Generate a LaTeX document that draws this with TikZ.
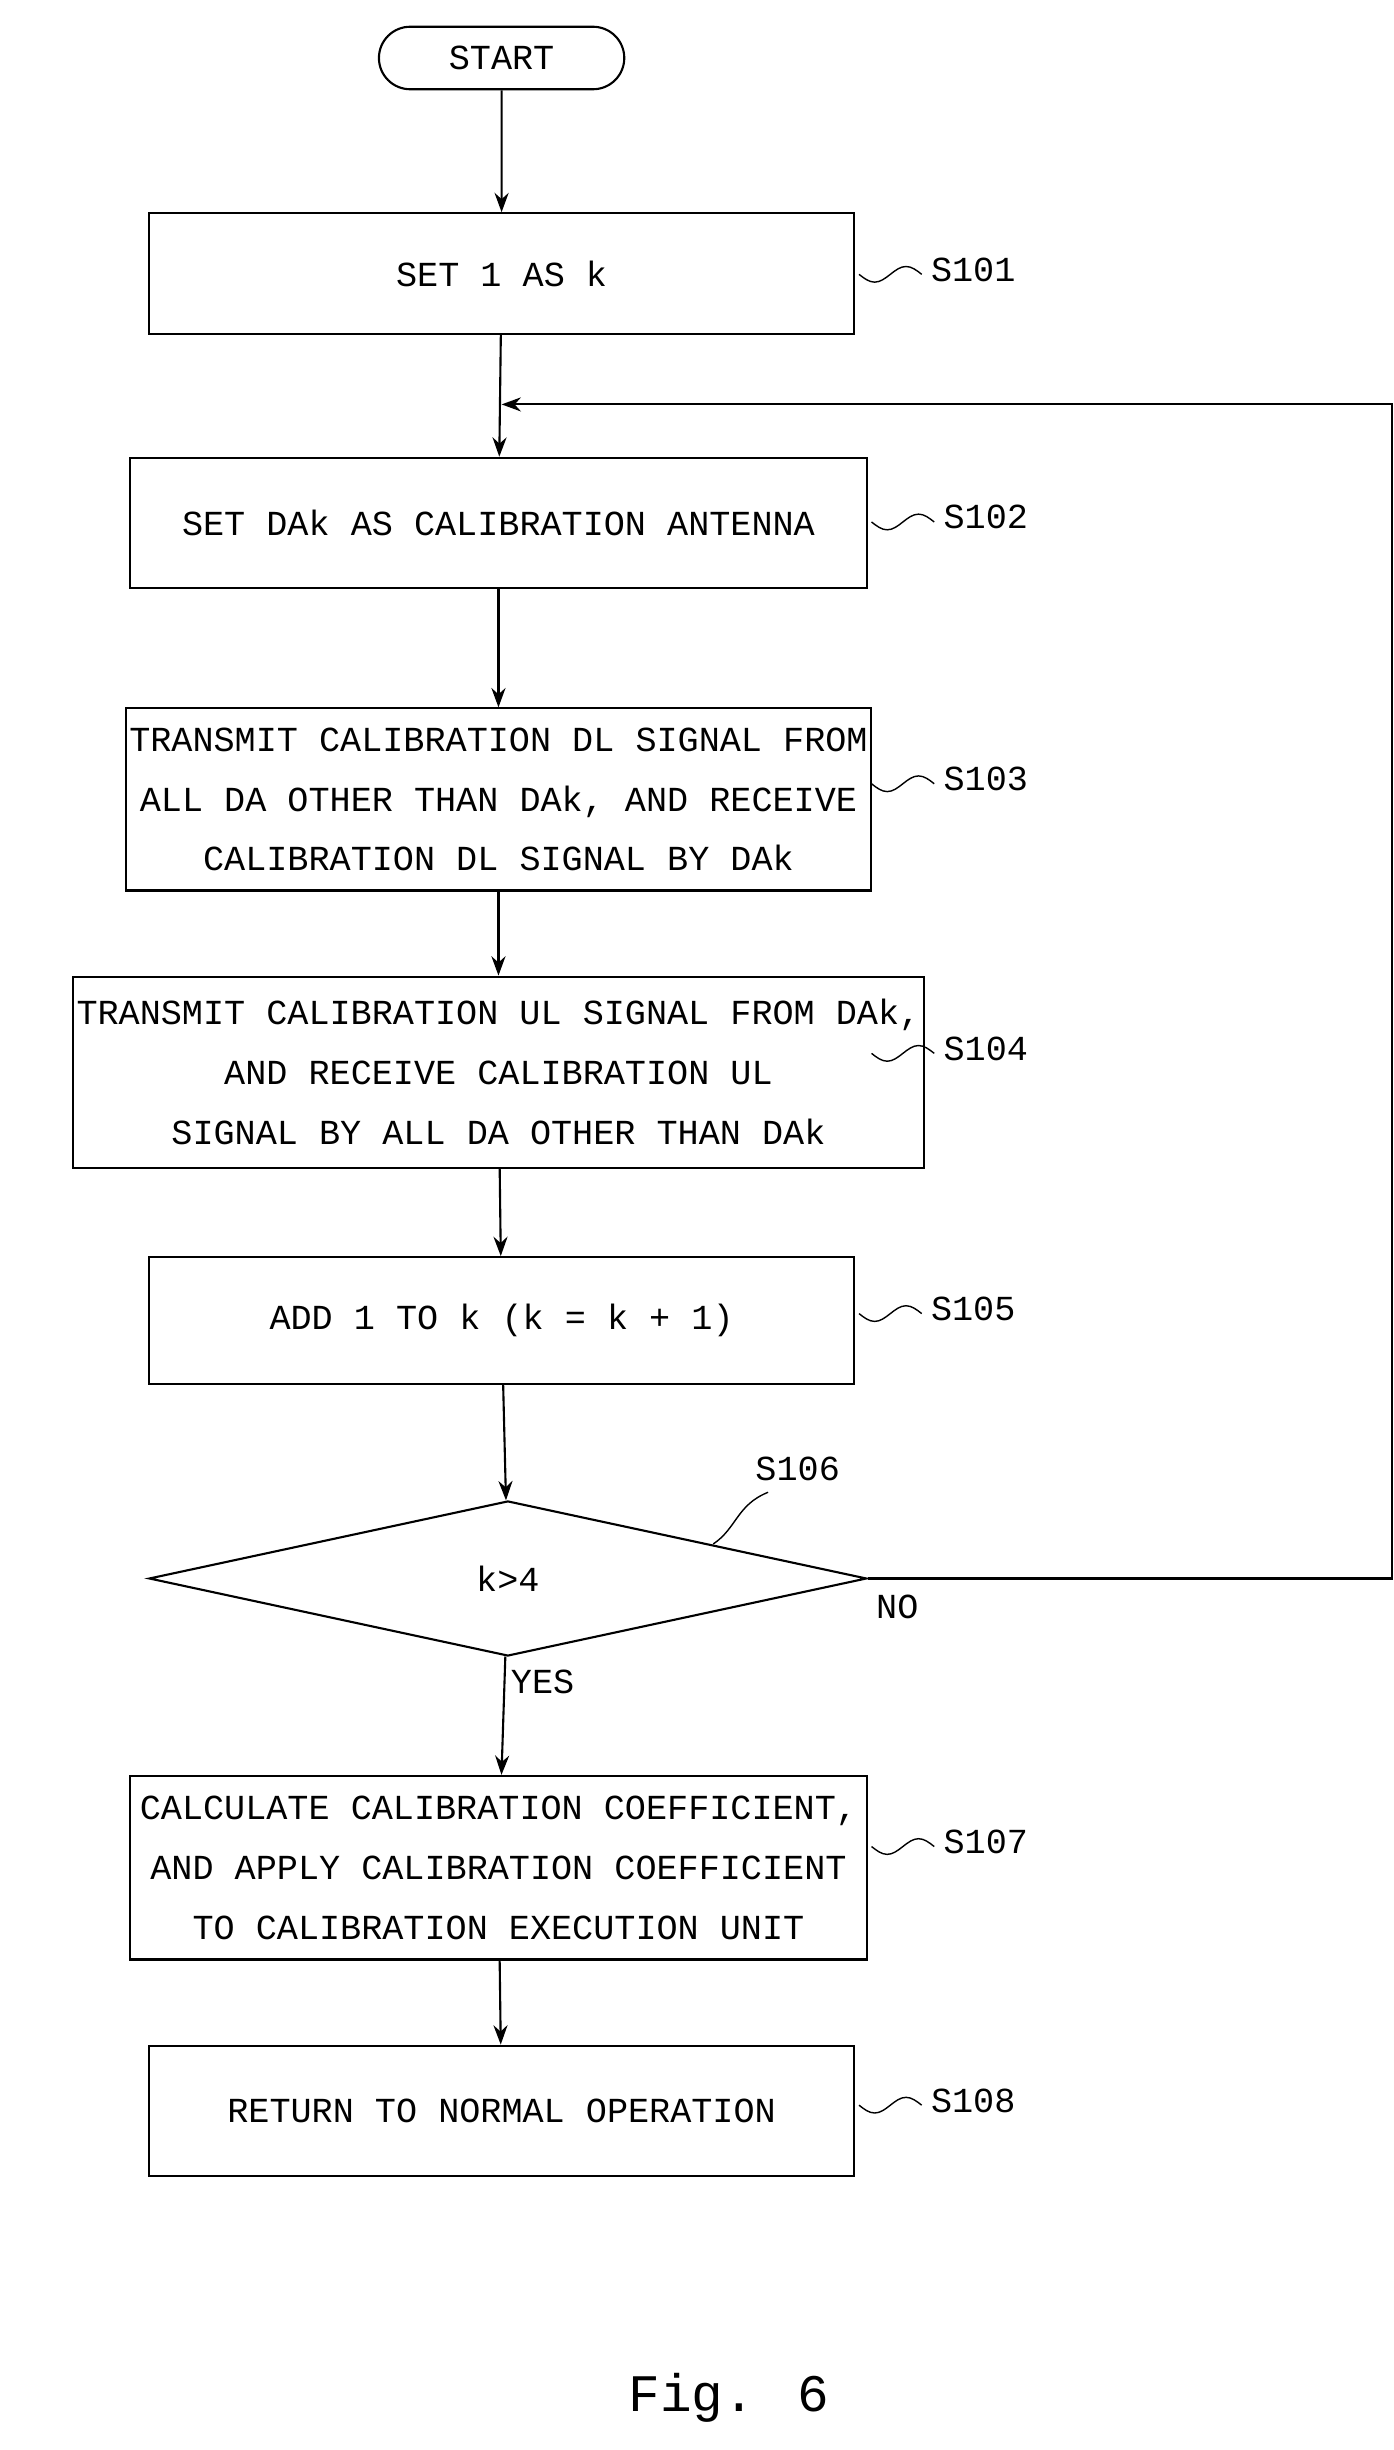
\documentclass[tikz,border=0pt]{standalone}
\usepackage{fontspec}
\setmainfont{Liberation Mono}
\usetikzlibrary{shapes.geometric, shapes.misc, arrows.meta}

\begin{document}
\begin{tikzpicture}[
    x=0.03134cm, y=-0.03134cm,
    process/.style={rectangle, draw=black, line width=1.2pt, align=center, font=\fontsize{20}{34}\selectfont, inner sep=2pt},
    term/.style={rounded rectangle, draw=black, line width=1.2pt, minimum width=5.14cm, minimum height=1.25cm, font=\fontsize{20}{24}\selectfont},
    decision/.style={diamond, draw=black, line width=1.2pt, minimum width=14.35cm, minimum height=3.1cm, inner sep=0pt, font=\fontsize{20}{24}\selectfont},
    flow/.style={line width=1.2pt, -{Stealth[length=11pt, width=8pt]}},
    tag/.style={font=\fontsize{20}{24}\selectfont, anchor=west},
    squiggle/.style={line width=0.8pt}
]
\useasboundingbox (0,0) rectangle (889,1563);

% Steps
\node[term] (start) at (320,37) {START};
\node[process, minimum width=14.1cm, minimum height=2.41cm] (s101) at (320,174.5) {SET 1 AS k};
\node[process, minimum width=14.73cm, minimum height=2.6cm] (s102) at (318,333.5) {SET DAk AS CALIBRATION ANTENNA};
\node[process, minimum width=14.73cm, minimum height=3.64cm] (s103) at (318,510) {TRANSMIT CALIBRATION DL SIGNAL FROM\\ALL DA OTHER THAN DAk, AND RECEIVE\\CALIBRATION DL SIGNAL BY DAk};
\node[process, minimum width=14.73cm, minimum height=3.82cm] (s104) at (318,684) {TRANSMIT CALIBRATION UL SIGNAL FROM DAk,\\AND RECEIVE CALIBRATION UL\\SIGNAL BY ALL DA OTHER THAN DAk};
\node[process, minimum width=14.1cm, minimum height=2.54cm] (s105) at (320,842.5) {ADD 1 TO k (k = k + 1)};
\node[decision] (s106) at (324,1007) {k>4};
\node[process, minimum width=14.73cm, minimum height=3.67cm] (s107) at (318,1191.5) {CALCULATE CALIBRATION COEFFICIENT,\\AND APPLY CALIBRATION COEFFICIENT\\TO CALIBRATION EXECUTION UNIT};
\node[process, minimum width=14.1cm, minimum height=2.6cm] (s108) at (320,1346.5) {RETURN TO NORMAL OPERATION};

% Connectors
\draw[flow] (start) -- (s101);
\draw[flow] (s101) -- (s102);
\draw[flow] (s102) -- (s103);
\draw[flow] (s103) -- (s104);
\draw[flow] (s104) -- (s105);
\draw[flow] (s105) -- (s106);
\draw[flow] (s106) -- (s107);
\draw[flow] (s107) -- (s108);
\coordinate (loop) at (320,258);
\draw[flow] (s106.east) -- (888,1007) -- (888,258) -- (loop);

% Step labels
\foreach \n/\x/\y in {101/548/175, 102/556/333, 103/556/500, 104/556/672, 105/548/838, 107/556/1178, 108/548/1343} {
  \draw[squiggle] (\x,\y) sin (\x+10,\y+5) cos (\x+20,\y) sin (\x+30,\y-5) cos (\x+40,\y);
  \node[tag] (l\n) at (\x+42,\y-3) {S\n};
}
\draw[squiggle] (455,985) .. controls (470,975) and (470,960) .. (490,952);
\node[tag] (l106) at (478,937) {S106};
\node[tag] (no) at (555,1025) {NO};
\node[tag] (yes) at (322,1073) {YES};

\node[font=\fontsize{30}{36}\selectfont] (fig) at (465,1530) {Fig. 6};
\end{tikzpicture}
\end{document}
